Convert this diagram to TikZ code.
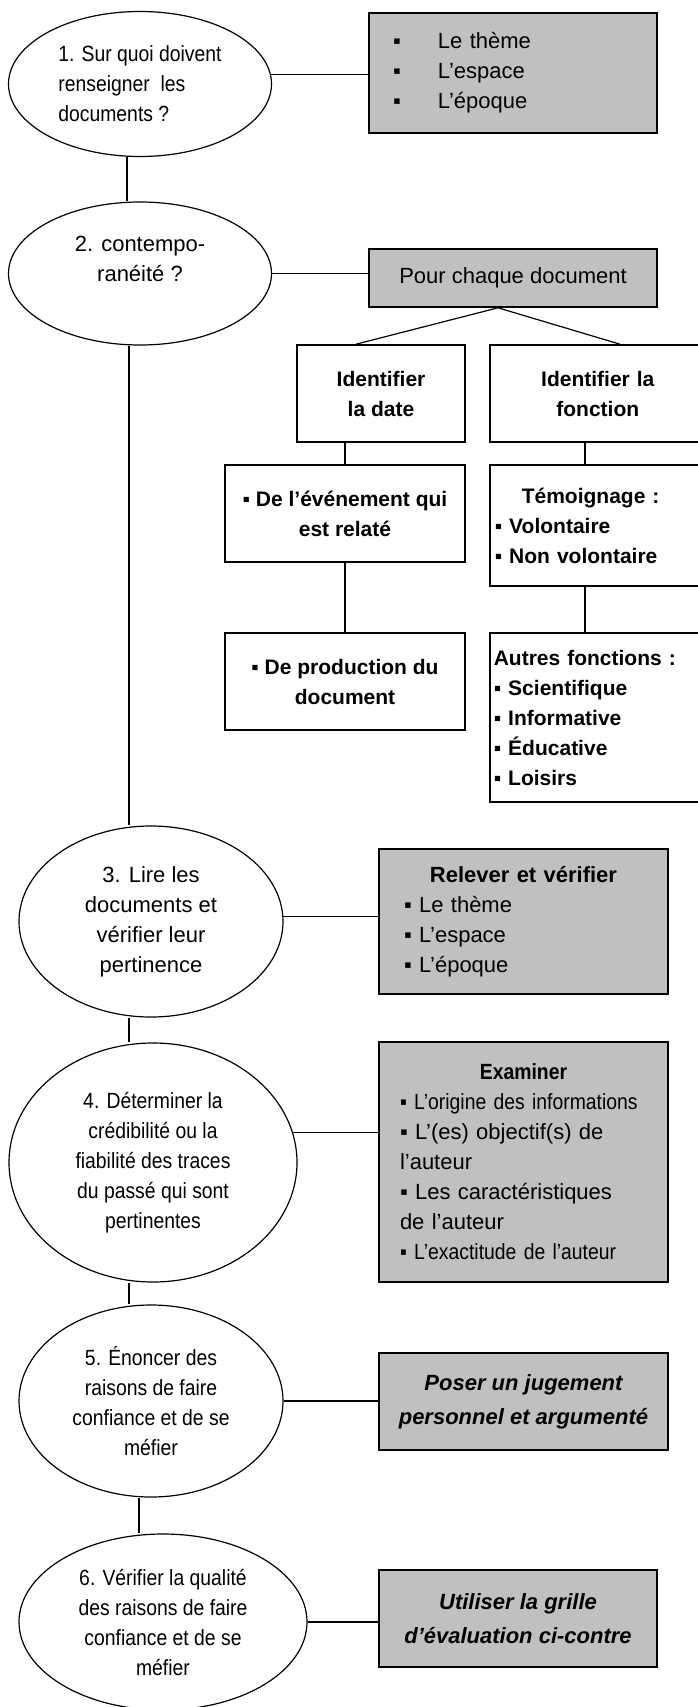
\documentclass[tikz,border=0pt]{standalone}
\usepackage{fontspec}
\setmainfont{Liberation Sans}
\newfontfamily\narrowfont[FakeStretch=0.88]{Liberation Sans}
\usepackage{xcolor}
\usepackage{tikz}
\usetikzlibrary{shapes.geometric,positioning}
\definecolor{boxgray}{RGB}{192,192,192}
\newcommand\blt{▪}

\begin{document}
\begin{tikzpicture}[
  x=0.5pt, y=-0.5pt,
  font=\fontsize{11}{15}\selectfont,
  slim/.style={font=\narrowfont\fontsize{11}{15}\selectfont},
  strong/.style={font=\fontsize{10.5}{15}\selectfont\bfseries},
  verdict/.style={font=\fontsize{11}{17}\selectfont\bfseries\itshape},
  bubble/.style={draw, ellipse, line width=0.6pt, inner sep=0pt, align=center},
  box/.style={draw, rectangle, line width=0.8pt, inner sep=0pt, align=center, fill=white},
  shaded/.style={box, fill=boxgray},
  edgebox/.style={box, strong, anchor=west, align=left, text width=130pt},
  link/.style={line width=0.6pt}
]
\useasboundingbox (0,0) rectangle (697,1707);

\node[bubble, slim, align=left, minimum width=131.5pt, minimum height=72.5pt] (q1) at (140,84)
  {1. Sur quoi doivent\\renseigner\ \ les\\documents ?};
\node[bubble, minimum width=131.5pt, minimum height=71.5pt] (q2) at (140,273.5)
  {2. contempo-\\ranéité ?\\~};
\node[bubble, minimum width=132pt, minimum height=95.5pt] (q3) at (151,921.5)
  {3. Lire les\\documents et\\vérifier leur\\pertinence};
\node[bubble, slim, minimum width=144pt, minimum height=119.5pt] (q4) at (153,1162.5)
  {4. Déterminer la\\crédibilité ou la\\fiabilité des traces\\du passé qui sont\\pertinentes};
\node[bubble, slim, minimum width=132pt, minimum height=96pt] (q5) at (151,1401)
  {5. Énoncer des\\raisons de faire\\confiance et de se\\méfier};
\node[bubble, slim, minimum width=144pt, minimum height=88pt] (q6) at (163,1622)
  {6. Vérifier la qualité\\des raisons de faire\\confiance et de se\\méfier};

\node[shaded, align=left, text width=120pt, inner xsep=12pt, minimum height=60pt] (b1) at (513,73)
  {\makebox[22.5pt][l]{\blt}Le thème\\\makebox[22.5pt][l]{\blt}L’espace\\\makebox[22.5pt][l]{\blt}L’époque};
\node[shaded, minimum width=144pt, minimum height=29pt] (b2) at (513,278) {Pour chaque document};
\node[box, strong, minimum width=84pt, minimum height=48.5pt] (b3) at (381,393.5) {Identifier\\la date};
\node[edgebox, minimum height=48.5pt] (b4) at (489,393.5)
  {\makebox[108pt]{Identifier la}\\\makebox[108pt]{fonction}};
\node[box, strong, minimum width=120pt, minimum height=48.5pt] (b5) at (345,513.5)
  {\blt\ De l'événement qui\\est relaté};
\node[edgebox, inner xsep=2.5pt, minimum height=60.5pt] (b6) at (489,525.5)
  {\hspace*{13.5pt}Témoignage :\\\blt\ Volontaire\\\blt\ Non volontaire};
\node[box, strong, minimum width=120pt, minimum height=48.5pt] (b7) at (345,681.5)
  {\blt\ De production du\\document};
\node[edgebox, inner xsep=2pt, minimum height=84.5pt] (b8) at (489,717.5)
  {Autres fonctions :\\\blt\ Scientifique\\\blt\ Informative\\\blt\ Éducative\\\blt\ Loisirs};

\node[shaded, align=left, text width=119.5pt, inner xsep=12.5pt, minimum height=72.5pt] (b9) at (523.5,921.5)
  {\makebox[119.5pt]{\bfseries Relever et vérifier}\\\blt\ Le thème\\\blt\ L’espace\\\blt\ L’époque};
\node[shaded, align=left, text width=123.5pt, inner xsep=10.5pt, minimum height=120pt] (b10) at (523.5,1162)
  {\makebox[123.5pt]{\narrowfont\bfseries Examiner}\\{\narrowfont\blt\ L’origine des informations}\\
   \blt\ L’(es) objectif(s) de\\l’auteur\\\blt\ Les caractéristiques\\de l’auteur\\
   {\narrowfont\blt\ L’exactitude de l’auteur}};
\node[shaded, verdict, minimum width=144.5pt, minimum height=48.5pt] (b11) at (523.5,1401.5)
  {Poser un jugement\\personnel et argumenté};
\node[shaded, verdict, minimum width=139pt, minimum height=48.5pt] (b12) at (518,1618.5)
  {Utiliser la grille\\d’évaluation ci-contre};

\draw[link] (q1.4) -- (q1.4 -| b1.west);
\draw[link] ([xshift=-6.5pt]q1.south) -- ([xshift=-6.5pt]q2.north);
\draw[link] (q2.east) -- (q2.east -| b2.west);
\draw[link] ([xshift=-5.5pt]q2.south) -- ([xshift=-11pt]q3.north);
\draw[link] ([xshift=-7.5pt]b2.south) -- ([xshift=-12.5pt]b3.north);
\draw[link] ([xshift=-7.5pt]b2.south) -- ([xshift=65.5pt]b4.north west);
\draw[link] (b5.north |- b3.south) -- (b5.north);
\draw[link] ([xshift=48pt]b4.south west) -- ([xshift=48pt]b6.north west);
\draw[link] (b5.south) -- (b7.north);
\draw[link] ([xshift=48pt]b6.south west) -- ([xshift=48pt]b8.north west);
\draw[link] (q3.2) -- (q3.2 -| b9.west);
\draw[link] ([xshift=-11pt]q3.south) -- ([xshift=-12pt]q4.north);
\draw[link] (q4.12) -- (q4.12 -| b10.west);
\draw[link] ([xshift=-12pt]q4.south) -- ([xshift=-11pt]q5.north);
\draw[link] (q5.east) -- (q5.east -| b11.west);
\draw[link] ([xshift=-6pt]q5.south) -- ([xshift=-12pt]q6.north);
\draw[link] (q6.east) -- (q6.east -| b12.west);
\end{tikzpicture}
\end{document}
